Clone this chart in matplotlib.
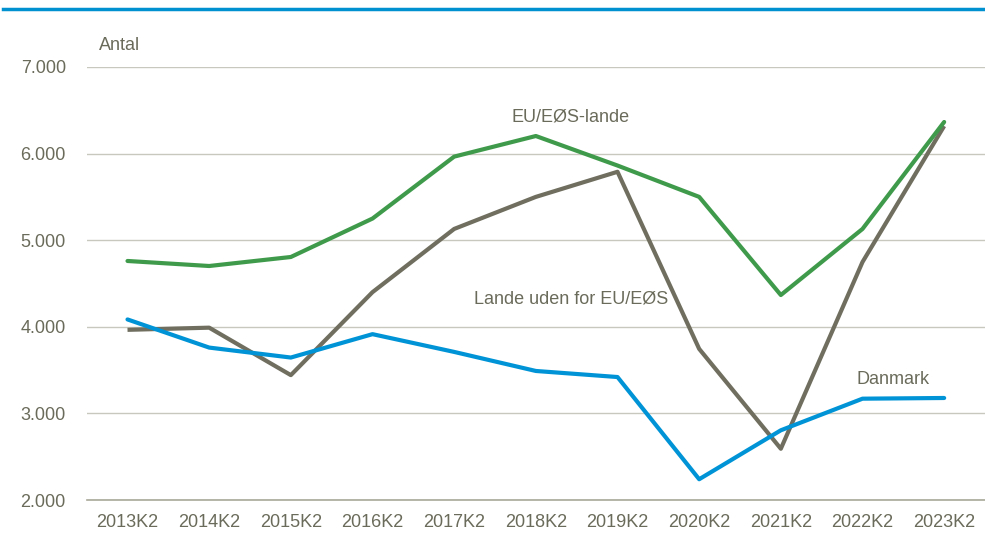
import matplotlib
matplotlib.use('Agg')
import matplotlib.pyplot as plt
from matplotlib.lines import Line2D
from matplotlib.ticker import FuncFormatter

plt.rcParams['font.family'] = ['Liberation Sans', 'DejaVu Sans']

# data
kvartaler = ['2013K2', '2014K2', '2015K2', '2016K2', '2017K2', '2018K2',
             '2019K2', '2020K2', '2021K2', '2022K2', '2023K2']
danmark = [4085, 3760, 3645, 3915, 3710, 3490, 3420, 2240, 2805, 3170, 3178]
eu_eos = [4760, 4702, 4806, 5250, 5965, 6203, 5862, 5500, 4367, 5130, 6365]
uden_eu = [3965, 3990, 3442, 4400, 5130, 5500, 5790, 3745, 2592, 4748, 6318]

blaa = '#0094D6'
groen = '#3F9B4B'
graa = '#6F6E5F'
tekst = '#6B6B5B'

fig = plt.figure(figsize=(9.85, 5.35), dpi=100)
ax = fig.add_axes([0.088, 0.0654, 0.912, 0.8094])

x = range(len(kvartaler))
ax.plot(x, eu_eos, color=groen, lw=3, solid_capstyle='round', zorder=3)
ax.plot(x, uden_eu, color=graa, lw=3, solid_capstyle='butt', zorder=2)
ax.plot(x, danmark, color=blaa, lw=3, solid_capstyle='round', zorder=4)

ax.set_xlim(-0.5, len(kvartaler) - 0.5)
ax.set_ylim(2000, 7000)
ax.set_yticks(range(2000, 7001, 1000))
ax.yaxis.set_major_formatter(FuncFormatter(lambda v, p: f'{int(v):,}'.replace(',', '.')))
ax.set_xticks(list(x))
ax.set_xticklabels(kvartaler)

ax.grid(axis='y', color='#C8C8BE', lw=1)
ax.set_axisbelow(True)
for s in ['top', 'right', 'left']:
    ax.spines[s].set_visible(False)
ax.spines['bottom'].set_color('#A8A898')
ax.spines['bottom'].set_linewidth(1.2)
ax.tick_params(axis='both', length=0, labelsize=13, colors=tekst)
ax.tick_params(axis='x', pad=10)
ax.tick_params(axis='y', pad=15)

# etiketter
ax.text(0.014, 1.03, 'Antal', transform=ax.transAxes, fontsize=13, color=tekst,
        ha='left', va='bottom')
ax.text(5.42, 6420, 'EU/EØS-lande', fontsize=13, color=tekst, ha='center', va='center')
ax.text(5.43, 4320, 'Lande uden for EU/EØS', fontsize=13, color=tekst, ha='center', va='center')
ax.text(9.38, 3390, 'Danmark', fontsize=13, color=tekst, ha='center', va='center')

# blå linje i toppen
fig.add_artist(Line2D([0.003, 1.0], [0.983, 0.983], color='#0091D0', lw=2.5,
                      transform=fig.transFigure))

fig.savefig('out.png', dpi=100)
